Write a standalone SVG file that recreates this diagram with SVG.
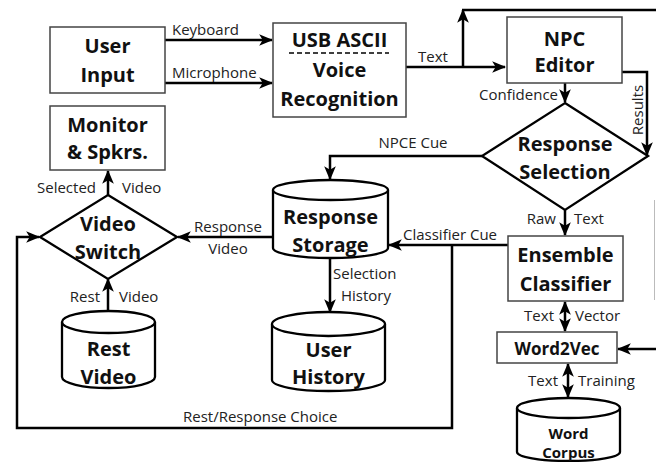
<svg xmlns="http://www.w3.org/2000/svg" width="656" height="462" viewBox="0 0 656 462">
<style>
.box{fill:#fff;stroke:#444;stroke-width:1.5}
.shape{fill:#fff;stroke:#000;stroke-width:2.3}
.t{font-family:"Open Sans","Liberation Sans",sans-serif;font-weight:bold;font-size:20px;fill:#111;text-anchor:middle}
.l{font-family:"Open Sans","Liberation Sans",sans-serif;font-size:15px;fill:#222}
.e{text-anchor:end}
.m{text-anchor:middle}
.c{fill:none;stroke:#000;stroke-width:2.5}
.a{marker-end:url(#ah)}
.d{marker-end:url(#ah);marker-start:url(#ah)}
</style>
<defs>
<marker id="ah" markerUnits="userSpaceOnUse" markerWidth="14" markerHeight="14" viewBox="0 0 12 12" refX="11" refY="6" orient="auto-start-reverse">
<path d="M0,1 L12,6 L0,11 L3,6 z" fill="#000"/>
</marker>
</defs>
<rect width="656" height="462" fill="#fff"/>

<g id="connectors">
<path class="c a" d="M165,40 H272"/>
<path class="c a" d="M165,83 H272"/>
<path class="c a" d="M406,67 H505"/>
<path class="c a" d="M463,67 V10"/>
<path class="c" d="M462,10 H656"/>
<path d="M654.5,200 V300" stroke="#bbb" stroke-width="1" fill="none"/>
<path class="c a" d="M656,349 H618"/>
<path class="c a" d="M565,83 V102"/>
<path class="c a" d="M622,72 H647 V155"/>
<path class="c a" d="M482,156 H330 V179"/>
<path class="c a" d="M273,237 H178"/>
<path class="c a" d="M108,195 V171"/>
<path class="c a" d="M108,311 V279"/>
<path class="c a" d="M330,258 V312"/>
<path class="c a" d="M565,210 V235"/>
<path class="c a" d="M508,245 H389"/>
<path class="c a" d="M452,245 V428 H17 V237 H39"/>
<path class="c d" d="M565,302 V331"/>
<path class="c d" d="M568,364 V397"/>
<text class="l" x="172" y="35">Keyboard</text>
<text class="l" x="172" y="78">Microphone</text>
<text class="l" x="418" y="62">Text</text>
<text class="l e" x="558" y="100">Confidence</text>
<text class="l m" transform="translate(643,110) rotate(-90)" x="0" y="0">Results</text>
<text class="l m" x="413" y="148">NPCE Cue</text>
<text class="l e" x="96" y="193">Selected</text>
<text class="l" x="122" y="193">Video</text>
<text class="l m" x="228" y="232">Response</text>
<text class="l m" x="228" y="254">Video</text>
<text class="l e" x="100" y="302">Rest</text>
<text class="l" x="119" y="302">Video</text>
<text class="l" x="333" y="279">Selection</text>
<text class="l" x="341" y="301">History</text>
<text class="l" x="403" y="240">Classifier Cue</text>
<text class="l e" x="556" y="224">Raw</text>
<text class="l" x="574" y="224">Text</text>
<text class="l e" x="554" y="321">Text</text>
<text class="l" x="575" y="321">Vector</text>
<text class="l e" x="558" y="386">Text</text>
<text class="l" x="578" y="386">Training</text>
<text class="l" x="183" y="422">Rest/Response Choice</text>
</g>

<g id="user-input">
<rect class="box" x="50" y="27" width="115" height="66"/>
<text class="t" x="107.5" y="53">User</text>
<text class="t" x="107.5" y="82">Input</text>
</g>
<g id="monitor">
<rect class="box" x="50" y="106" width="115" height="64"/>
<text class="t" x="107.5" y="132">Monitor</text>
<text class="t" x="107.5" y="159">&amp; Spkrs.</text>
</g>
<g id="voice-recognition">
<rect class="box" x="273" y="23" width="133" height="94"/>
<text class="t" x="339.5" y="47">USB ASCII</text>
<path d="M289,53 H389" stroke="#000" stroke-width="1.5" stroke-dasharray="5,3"/>
<text class="t" x="339.5" y="77">Voice</text>
<text class="t" x="339.5" y="106">Recognition</text>
</g>
<g id="npc-editor">
<rect class="box" x="507" y="17" width="115" height="66"/>
<text class="t" x="564.5" y="46">NPC</text>
<text class="t" x="564.5" y="72">Editor</text>
</g>
<g id="response-selection">
<path class="shape" d="M565,103 L648,156 L565,210 L482,156 Z"/>
<text class="t" x="565" y="151">Response</text>
<text class="t" x="565" y="179">Selection</text>
</g>
<g id="response-storage">
<path class="shape" d="M273,190 V248 A57.5,10 0 0 0 388,248 V190"/>
<ellipse class="shape" cx="330.5" cy="190" rx="57.5" ry="10"/>
<text class="t" x="330.5" y="224">Response</text>
<text class="t" x="330.5" y="252">Storage</text>
</g>
<g id="video-switch">
<path class="shape" d="M108,195 L177,237 L108,279 L40,237 Z"/>
<text class="t" x="108" y="231">Video</text>
<text class="t" x="108" y="259">Switch</text>
</g>
<g id="rest-video">
<path class="shape" d="M62,322 V377 A46.5,11 0 0 0 155,377 V322"/>
<ellipse class="shape" cx="108.5" cy="322" rx="46.5" ry="11"/>
<text class="t" x="108.5" y="356">Rest</text>
<text class="t" x="108.5" y="384">Video</text>
</g>
<g id="user-history">
<path class="shape" d="M272,324 V380 A56.5,11 0 0 0 385,380 V324"/>
<ellipse class="shape" cx="328.5" cy="324" rx="56.5" ry="12"/>
<text class="t" x="328.5" y="357">User</text>
<text class="t" x="328.5" y="384">History</text>
</g>
<g id="ensemble-classifier">
<rect class="box" x="508" y="236" width="115" height="65"/>
<text class="t" x="565.5" y="262">Ensemble</text>
<text class="t" x="565.5" y="291">Classifier</text>
</g>
<g id="word2vec">
<rect class="box" x="497" y="332" width="120" height="31"/>
<text class="t" x="557" y="355" style="font-size:17px">Word2Vec</text>
</g>
<g id="word-corpus">
<path class="shape" d="M517,408 V452 A51.5,9 0 0 0 620,452 V408"/>
<ellipse class="shape" cx="568.5" cy="408" rx="51.5" ry="10"/>
<text class="t" x="568.5" y="439" style="font-size:15px">Word</text>
<text class="t" x="568.5" y="458" style="font-size:15px">Corpus</text>
</g>
</svg>
